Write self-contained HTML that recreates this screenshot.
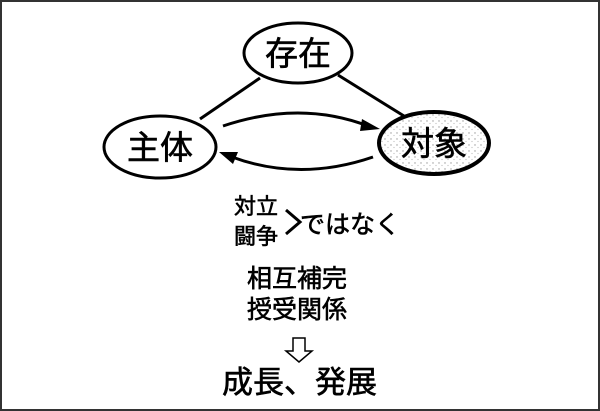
<!DOCTYPE html>
<html><head><meta charset="utf-8"><style>
html,body{margin:0;padding:0;background:#fff;}
svg{display:block}
text{font-family:"Liberation Sans","Noto Sans CJK JP",sans-serif;fill:#000;stroke:#000;stroke-width:0.6}
</style></head><body>
<svg width="600" height="411" viewBox="0 0 600 411" xmlns="http://www.w3.org/2000/svg">
<defs>
<pattern id="sp" width="6" height="6" patternUnits="userSpaceOnUse">
<rect width="6" height="6" fill="#fff"/>
<circle cx="1" cy="1" r="0.7" fill="#999"/><circle cx="4" cy="3.5" r="0.6" fill="#bbb"/>
</pattern>
</defs>
<rect x="1" y="1" width="598" height="409" fill="#fff" stroke="#333" stroke-width="2"/>
<line x1="260" y1="78" x2="200" y2="119" stroke="#000" stroke-width="3"/>
<line x1="338" y1="75" x2="404" y2="116" stroke="#000" stroke-width="3"/>
<ellipse cx="298" cy="53" rx="54" ry="30" fill="#fff" stroke="#000" stroke-width="3"/>
<text x="298" y="65" font-size="33" text-anchor="middle">存在</text>
<ellipse cx="160" cy="147" rx="56" ry="31" fill="#fff" stroke="#000" stroke-width="3"/>
<text x="160" y="159" font-size="33" text-anchor="middle">主体</text>
<ellipse cx="434" cy="143" rx="55" ry="31" fill="url(#sp)" stroke="#000" stroke-width="4"/>
<text x="434" y="155" font-size="33" text-anchor="middle">対象</text>
<path d="M223 126 Q300 100 368 126" fill="none" stroke="#000" stroke-width="3"/>
<polygon points="380,129 362,119 360,131" fill="#000"/>
<path d="M373 157 Q300 182 232 157" fill="none" stroke="#000" stroke-width="3"/>
<polygon points="219,152 238,152 233,164" fill="#000"/>
<text x="234" y="214" font-size="22">対立</text>
<text x="234" y="244" font-size="22">闘争</text>
<path d="M286 210 L300 222 L286 234" fill="none" stroke="#000" stroke-width="3"/>
<text x="300" y="233" font-size="25">ではなく</text>
<text x="247" y="287" font-size="25">相互補完</text>
<text x="247" y="318" font-size="25">授受関係</text>
<polygon points="293,338 305,338 305,351 312,351 299,362 286,351 293,351" fill="#fff" stroke="#000" stroke-width="1.5"/>
<text x="222" y="393" font-size="31">成長、発展</text>
</svg>
</body></html>
